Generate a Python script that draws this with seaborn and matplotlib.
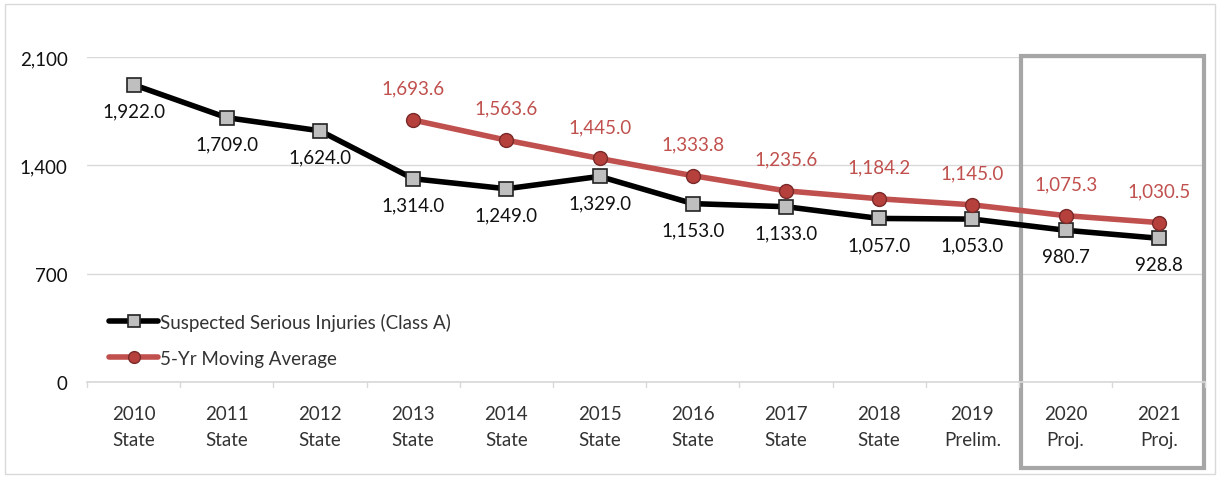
import matplotlib
matplotlib.use("Agg")
import matplotlib.pyplot as plt
import matplotlib.patches as mpatches
import matplotlib.transforms as mtransforms
import seaborn as sns
import pandas as pd
import numpy as np

years = ["2010", "2011", "2012", "2013", "2014", "2015", "2016", "2017", "2018", "2019", "2020", "2021"]
kinds = ["State", "State", "State", "State", "State", "State", "State", "State", "State", "Prelim.", "Proj.", "Proj."]
injuries = [1922.0, 1709.0, 1624.0, 1314.0, 1249.0, 1329.0, 1153.0, 1133.0, 1057.0, 1053.0, 980.7, 928.8]
moving_avg = [None, None, None, 1693.6, 1563.6, 1445.0, 1333.8, 1235.6, 1184.2, 1145.0, 1075.3, 1030.5]
yticks = [0, 700, 1400, 2100]

labels = [f"{y}\n{k}" for y, k in zip(years, kinds)]
df = pd.DataFrame({"x": np.arange(len(years)), "inj": injuries,
                   "ma": [np.nan if v is None else v for v in moving_avg]})

sns.set_theme(style="white")
plt.rcParams["font.family"] = ["Lato", "DejaVu Sans"]

fig = plt.figure(figsize=(12.25, 4.81), dpi=100)
ax = fig.add_axes([0.071, 0.204, 0.913, 0.675])

FS = 13.5
black = "#000000"
red = "#c0504d"
sns.lineplot(data=df, x="x", y="inj", ax=ax, color=black, lw=4, marker="s",
             markersize=10, markerfacecolor="#bfbfbf", markeredgecolor="#222222",
             markeredgewidth=1.2, label="Suspected Serious Injuries (Class A)")
dma = df.dropna()
sns.lineplot(data=dma, x="x", y="ma", ax=ax, color=red, lw=4, marker="o",
             markersize=10, markerfacecolor="#b5403c", markeredgecolor="#7a2a28",
             markeredgewidth=1.0, label="5-Yr Moving Average")

for xi, v in zip(df["x"], injuries):
    ax.annotate(f"{v:,.1f}", (xi, v), xytext=(0, -26), textcoords="offset pixels",
                ha="center", va="center", fontsize=FS, color="#111111")
for xi, v in zip(df["x"], moving_avg):
    if v is None:
        continue
    ax.annotate(f"{v:,.1f}", (xi, v), xytext=(0, 32), textcoords="offset pixels",
                ha="center", va="center", fontsize=FS, color="#c0504d")

ax.set_xlim(-0.5, 11.5)
ax.set_ylim(0, 2100)
ax.set_yticks(yticks)
ax.set_yticklabels([f"{t:,}" for t in yticks], fontsize=FS, color="#111111")
ax.set_xticks(np.arange(len(years)))
ax.set_xticklabels(labels, fontsize=FS, color="#333333", linespacing=1.6)
ax.tick_params(axis="x", length=0, pad=17)
ax.tick_params(axis="y", length=0, pad=14)
ax.set_xlabel("")
ax.set_ylabel("")
ax.grid(axis="y", color="#d9d9d9", lw=1)
for s in ["top", "right"]:
    ax.spines[s].set_visible(False)
ax.spines["left"].set_visible(False)
ax.spines["bottom"].set_color("#d9d9d9")
# small tick marks at category boundaries
for b in np.arange(-0.5, 12, 1.0):
    ax.plot([b, b], [0, -35], color="#d9d9d9", lw=1, clip_on=False)

leg = ax.legend(loc="lower left", bbox_to_anchor=(0.005, -0.005), frameon=False,
                fontsize=FS, handlelength=2.6, handletextpad=0.1, labelspacing=1.0,
                markerscale=0.85)
for t in leg.get_texts():
    t.set_color("#333333")

# highlight box around projections
trans = mtransforms.blended_transform_factory(ax.transData, fig.transFigure)
box = mpatches.Rectangle((9.52, (481 - 469) / 481), 11.48 - 9.52, (469 - 57) / 481,
                         transform=trans, fill=False, edgecolor="#a6a6a6", lw=3,
                         clip_on=False)
ax.add_patch(box)

# outer chart border
fig.patches.append(mpatches.Rectangle((5 / 1225, 6 / 481), 1210 / 1225, 470 / 481,
                                      transform=fig.transFigure, fill=False,
                                      edgecolor="#d9d9d9", lw=1))

fig.savefig("out.png", dpi=100)
